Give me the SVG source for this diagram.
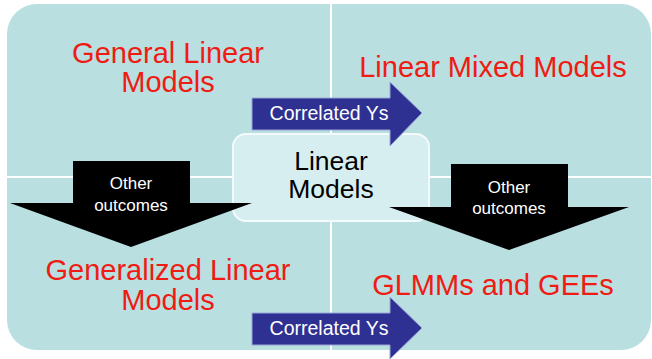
<svg xmlns="http://www.w3.org/2000/svg" width="652" height="359" viewBox="0 0 652 359">
<style>
.red{font-family:"Liberation Sans",Arial,sans-serif;font-size:29px;fill:#ee1c12;text-anchor:middle}
.ctr{font-family:"Liberation Sans",Arial,sans-serif;font-size:26.5px;fill:#000;text-anchor:middle}
.wt{font-family:"Liberation Sans",Arial,sans-serif;fill:#fff;text-anchor:middle}
.blue{fill:#2f3192;stroke:#9aa6d6;stroke-width:1}
.black{fill:#000}
</style>
<rect width="652" height="359" fill="#fff"/>
<g id="background">
<rect x="7" y="4" width="644" height="346" rx="30" ry="30" fill="#b9dfe1"/>
<line x1="331" y1="4" x2="331" y2="350" stroke="#fff" stroke-width="2"/>
<line x1="7" y1="177" x2="651" y2="177" stroke="#fff" stroke-width="2"/>
</g>
<g id="glm">
<text class="red" x="168" y="63">General Linear</text>
<text class="red" x="168" y="92">Models</text>
</g>
<g id="lmm">
<text class="red" x="493" y="77">Linear Mixed Models</text>
</g>
<g id="gzlm">
<text class="red" x="168" y="280">Generalized Linear</text>
<text class="red" x="168" y="310">Models</text>
</g>
<g id="glmm">
<text class="red" x="493" y="295">GLMMs and GEEs</text>
</g>
<g id="linear-models">
<rect x="233" y="134" width="196" height="87" rx="13" ry="13" fill="#d7eef0" stroke="#f2fafb" stroke-width="2"/>
<text class="ctr" x="331" y="170">Linear</text>
<text class="ctr" x="331" y="198">Models</text>
</g>
<g id="connectors">
<g id="arrow-top">
<path class="blue" d="M252,98 H390 V82 L422,113 L390,146 V130 H252 Z"/>
<text class="wt" x="329" y="120" font-size="19.5">Correlated Ys</text>
</g>
<g id="arrow-bottom">
<path class="blue" d="M252,313 H390 V297 L422,328 L390,359 V345 H252 Z"/>
<text class="wt" x="329" y="335" font-size="19.5">Correlated Ys</text>
</g>
<g id="arrow-left">
<path class="black" d="M73,161 H190 V203 H252 L131,247 L10,203 H73 Z"/>
<text class="wt" x="131" y="189" font-size="17">Other</text>
<text class="wt" x="131" y="211" font-size="17">outcomes</text>
</g>
<g id="arrow-right">
<path class="black" d="M451,164 H568 V207 H629 L509,250 L389,207 H451 Z"/>
<text class="wt" x="509" y="193" font-size="17">Other</text>
<text class="wt" x="509" y="214" font-size="17">outcomes</text>
</g>
</g>
</svg>
